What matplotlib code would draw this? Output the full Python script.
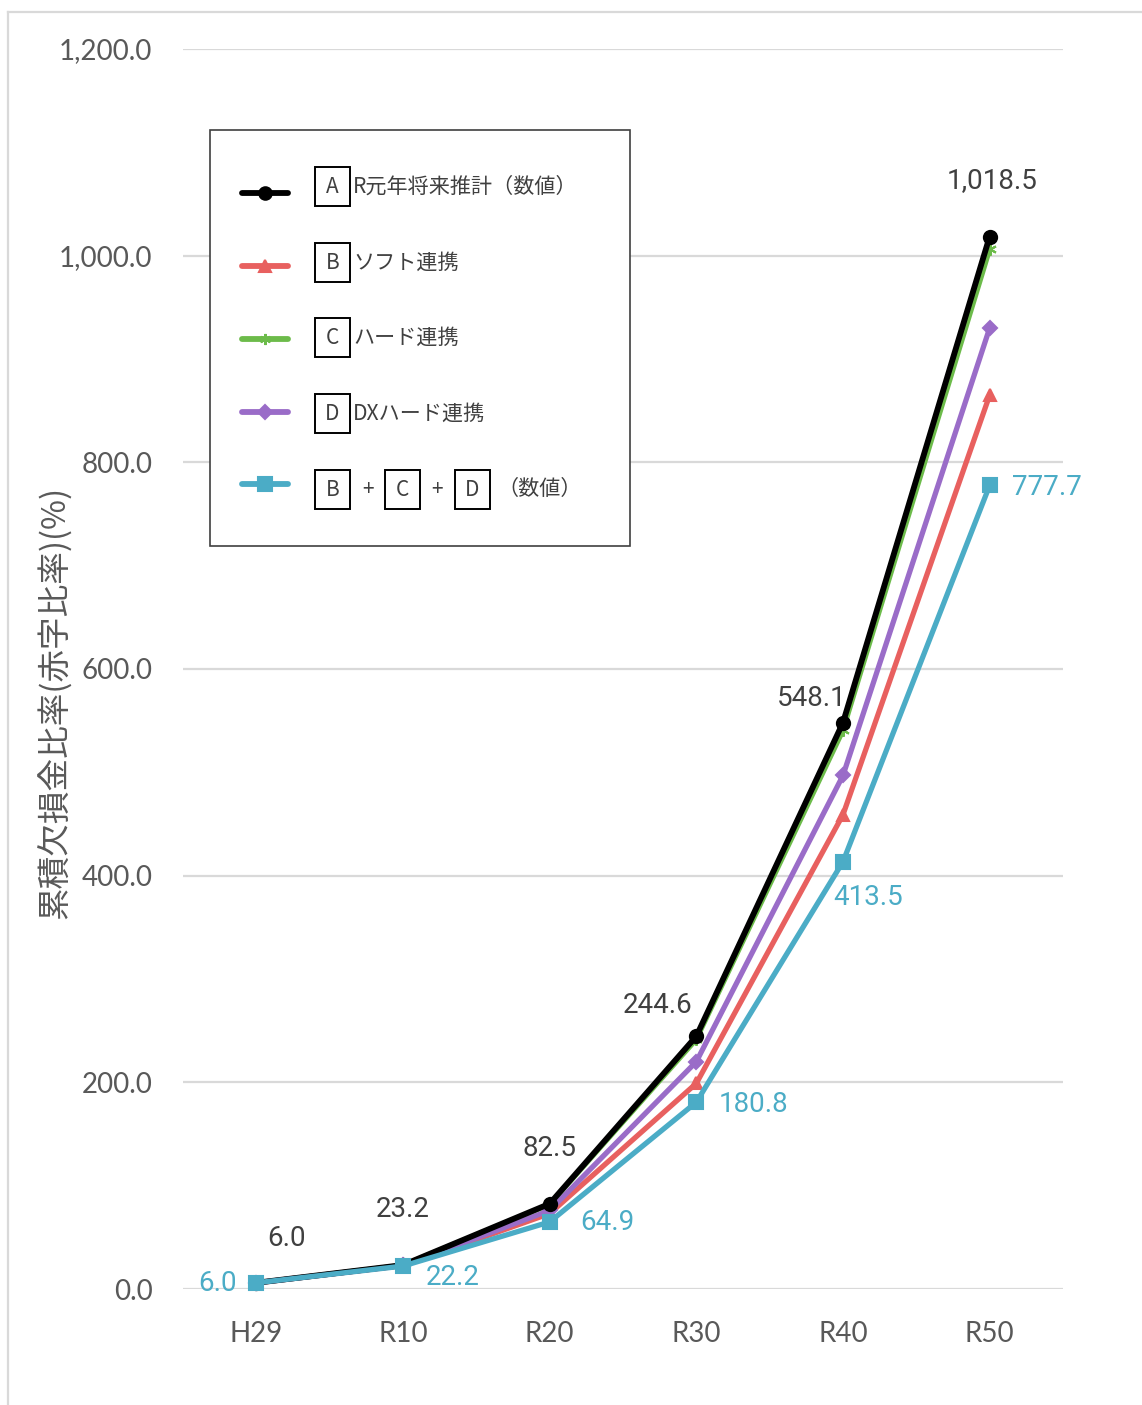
import matplotlib
matplotlib.use("Agg")
import matplotlib.pyplot as plt
from matplotlib.patches import Rectangle
from matplotlib.lines import Line2D
from matplotlib.ticker import FuncFormatter

# ---- data -------------------------------------------------------------
periods = ["H29", "R10", "R20", "R30", "R40", "R50"]
series_a = [6.0, 23.2, 82.5, 244.6, 548.1, 1018.5]   # R元年将来推計（数値）
series_b = [6.0, 22.6, 73.0, 199.0, 459.0, 865.0]    # ソフト連携
series_c = [6.0, 23.1, 81.8, 241.5, 540.5, 1006.0]   # ハード連携
series_d = [6.0, 22.8, 76.0, 220.0, 497.0, 930.0]    # DXハード連携
series_e = [6.0, 22.2, 64.9, 180.8, 413.5, 777.7]    # B+C+D（数値）

y_ticks = [0, 200, 400, 600, 800, 1000, 1200]

# ---- styles -----------------------------------------------------------
W, H = 1142, 1405
CJK = ["Noto Sans CJK JP", "DejaVu Sans"]
TICK_FONT = ["Lato", "DejaVu Sans"]
LABEL_FONT = ["Roboto", "DejaVu Sans"]

BLACK = "#000000"
RED = "#E8605F"
GREEN = "#6CBB4A"
PURPLE = "#9A6CC8"
CYAN = "#4BACC6"
TEXT_DARK = "#404040"
TICK_GRAY = "#595959"
GRID = "#D9D9D9"

# label offsets in pixels (dx, dy) from each marker
offsets_a = [(30, 44), (0, 56), (0, 55), (-39, 31), (-31, 24), (2, 56)]
offsets_e = [(-39, -1), (50, -11), (58, -1), (57, -2), (25, -36), (57, -2)]


def fx(px):
    return px / W


def fy(py):
    return 1 - py / H


fig = plt.figure(figsize=(W / 100, H / 100), dpi=100)
fig.patch.set_facecolor("white")

ax = fig.add_axes([fx(183), fy(1289), (1063 - 183) / W, (1289 - 49) / H])
xs = list(range(len(periods)))

line_specs = [
    (series_c, GREEN, (6, 2, 0), 9, 3.6, 2),
    (series_b, RED, "^", 9, 3.8, 3),
    (series_d, PURPLE, "D", 7.5, 3.8, 4),
    (series_a, BLACK, "o", 9.5, 4.2, 5),
    (series_e, CYAN, "s", 9.5, 3.8, 6),
]
for vals, col, mk, ms, lw, z in line_specs:
    ax.plot(xs, vals, color=col, lw=lw, marker=mk, ms=ms,
            markeredgecolor=col, markerfacecolor=col, mew=1.5,
            solid_joinstyle="round", zorder=z, clip_on=False)

for xi, v, (dx, dy) in zip(xs, series_a, offsets_a):
    ax.annotate(f"{v:,.1f}", (xi, v), xytext=(dx, dy),
                textcoords="offset pixels", ha="center", va="center",
                fontsize=20, color=TEXT_DARK, family=LABEL_FONT, zorder=10)
for xi, v, (dx, dy) in zip(xs, series_e, offsets_e):
    ax.annotate(f"{v:,.1f}", (xi, v), xytext=(dx, dy),
                textcoords="offset pixels", ha="center", va="center",
                fontsize=20, color=CYAN, family=LABEL_FONT, zorder=10)

ax.set_xlim(-0.5, 5.5)
ax.set_ylim(0, 1200)
ax.set_xticks(xs)
ax.set_xticklabels(periods)
ax.set_yticks(y_ticks)
ax.yaxis.set_major_formatter(FuncFormatter(lambda v, p: f"{v:,.1f}"))
ax.grid(axis="y", color=GRID, lw=1.6, zorder=0)
ax.set_axisbelow(True)
for s in ax.spines.values():
    s.set_visible(False)
ax.tick_params(axis="both", length=0, labelsize=20, colors=TICK_GRAY)
ax.tick_params(axis="y", pad=22)
ax.tick_params(axis="x", pad=23)
for lab in ax.get_xticklabels() + ax.get_yticklabels():
    lab.set_family(TICK_FONT)

fig.text(fx(55), fy(702), "累積欠損金比率(赤字比率)(%)", rotation=90,
         ha="center", va="center", fontsize=23.5, color=TICK_GRAY, family=CJK)

# ---- outer frame ------------------------------------------------------
fig.add_artist(Line2D([fx(8), fx(8)], [fy(12), 0], transform=fig.transFigure,
                      color=GRID, lw=1.6))
fig.add_artist(Line2D([fx(8), 1], [fy(12), fy(12)], transform=fig.transFigure,
                      color=GRID, lw=1.6))

# ---- legend -----------------------------------------------------------
fig.add_artist(Rectangle((fx(210), fy(546)), (630 - 210) / W, (546 - 130) / H,
                         transform=fig.transFigure, fc="white", ec="#404040",
                         lw=1.2, zorder=20))


def letter_box(x0, ytop, letter):
    fig.add_artist(Rectangle((fx(x0), fy(ytop + 39)), 35 / W, 39 / H,
                             transform=fig.transFigure, fc="none", ec="black",
                             lw=1.4, zorder=21))
    fig.text(fx(x0 + 17.5), fy(ytop + 20), letter, ha="center", va="center",
             fontsize=15, color=TEXT_DARK, family=CJK, zorder=22)


def legend_sample(y, col, mk, ms):
    fig.add_artist(Line2D([fx(242), fx(288)], [fy(y), fy(y)],
                          transform=fig.transFigure, color=col, lw=4.2,
                          solid_capstyle="round", zorder=23))
    fig.add_artist(Line2D([fx(265)], [fy(y)], transform=fig.transFigure,
                          color=col, marker=mk, ms=ms, mfc=col, mec=col,
                          mew=1.5, lw=0, zorder=24))


legend_rows = [
    (BLACK, "o", 9, "A", "R元年将来推計（数値）", 193, 167),
    (RED, "^", 8, "B", "ソフト連携", 266, 243),
    (GREEN, (6, 2, 0), 8, "C", "ハード連携", 339, 318),
    (PURPLE, "D", 7, "D", "DXハード連携", 412, 394),
]
for col, mk, ms, letter, text, ly, btop in legend_rows:
    legend_sample(ly, col, mk, ms)
    letter_box(315, btop, letter)
    fig.text(fx(353), fy(btop + 20), text, ha="left", va="center",
             fontsize=15.2, color=TEXT_DARK, family=CJK, zorder=22)

# combined row
legend_sample(484, CYAN, "s", 10)
letter_box(315, 470, "B")
fig.text(fx(368), fy(490), "+", ha="center", va="center", fontsize=15,
         color=TEXT_DARK, family=CJK, zorder=22)
letter_box(385, 470, "C")
fig.text(fx(437), fy(490), "+", ha="center", va="center", fontsize=15,
         color=TEXT_DARK, family=CJK, zorder=22)
letter_box(455, 470, "D")
fig.text(fx(497), fy(489), "（数値）", ha="left", va="center",
         fontsize=15.2, color=TEXT_DARK, family=CJK, zorder=22)

fig.savefig("out.png", dpi=100, facecolor="white")
